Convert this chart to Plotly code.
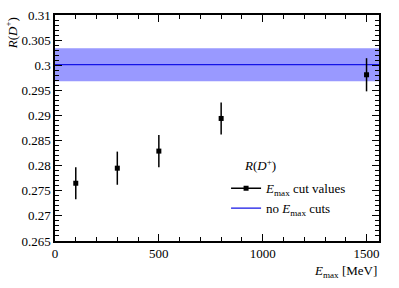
import plotly.graph_objects as go

emax = [100, 300, 500, 800, 1500]
r_vals = [0.2765, 0.2795, 0.2829, 0.2894, 0.2981]
r_errs = [0.0032, 0.0033, 0.0032, 0.0032, 0.0033]
ref_val = 0.3001
ref_err = 0.0033
x_range = [0, 1560]
y_range = [0.265, 0.31]

FONT = "Liberation Serif"
fig = go.Figure()

# uncertainty band
fig.add_trace(go.Scatter(
    x=[x_range[0], x_range[1], x_range[1], x_range[0]],
    y=[ref_val - ref_err, ref_val - ref_err, ref_val + ref_err, ref_val + ref_err],
    fill="toself", fillcolor="rgb(153,153,255)", line=dict(width=0),
    mode="lines", showlegend=False, hoverinfo="skip"))

# dummy for legend entry with marker+line
fig.add_trace(go.Scatter(
    x=[None], y=[None], mode="lines+markers",
    line=dict(color="black", width=1.5),
    marker=dict(symbol="square", size=5, color="black"),
    name="<i>E</i><sub>max</sub> cut values"))

fig.add_trace(go.Scatter(
    x=x_range, y=[ref_val, ref_val], mode="lines",
    line=dict(color="rgb(20,20,230)", width=1.2),
    name="no <i>E</i><sub>max</sub> cuts"))

fig.add_trace(go.Scatter(
    x=emax, y=r_vals, mode="markers",
    marker=dict(symbol="square", size=5, color="black"),
    error_y=dict(type="data", array=r_errs, color="black", thickness=1.5, width=0),
    showlegend=False))

axis_common = dict(
    showgrid=False, zeroline=False, showline=True, linecolor="black", linewidth=1.5,
    ticks="inside", ticklen=7, tickwidth=1, tickcolor="black", mirror="ticks",
    tickfont=dict(family=FONT, size=13, color="black"), automargin=False,
)

fig.update_xaxes(range=x_range, dtick=500, tick0=0,
                 minor=dict(dtick=100, ticks="inside", ticklen=4, tickcolor="black"),
                 **axis_common)
fig.update_yaxes(range=[y_range[0], y_range[1] + 1e-7], dtick=0.005, tick0=0.265,
                 minor=dict(dtick=0.001, ticks="inside", ticklen=4, tickcolor="black"),
                 **axis_common)

fig.add_annotation(xref="paper", yref="paper", x=1.0, y=-0.09,
                   xanchor="right", yanchor="top", showarrow=False,
                   text="<i>E</i><sub>max</sub> [MeV]",
                   font=dict(family=FONT, size=13, color="black"))
fig.add_annotation(xref="paper", yref="paper", x=-0.135, y=1.0,
                   xanchor="center", yanchor="top", showarrow=False, textangle=-90,
                   text="<i>R</i>(<i>D</i><sup>+</sup>)",
                   font=dict(family=FONT, size=13, color="black"))
# legend header
fig.add_annotation(xref="paper", yref="paper", x=0.578, y=0.336,
                   xanchor="left", yanchor="middle", showarrow=False,
                   text="<i>R</i>(<i>D</i><sup>+</sup>)",
                   font=dict(family=FONT, size=13, color="black"))

fig.update_layout(
    width=399, height=288,
    margin=dict(l=55, r=20, t=15, b=47, autoexpand=False),
    paper_bgcolor="white", plot_bgcolor="white",
    legend=dict(x=0.528, y=0.30, xanchor="left", yanchor="top",
                bgcolor="rgba(0,0,0,0)",
                font=dict(family=FONT, size=13, color="black"),
                tracegroupgap=0, itemwidth=30),
)

fig.write_html("out.html", config={"displayModeBar": False},
               post_script="document.body.style.margin='0';document.body.style.padding='0';")
